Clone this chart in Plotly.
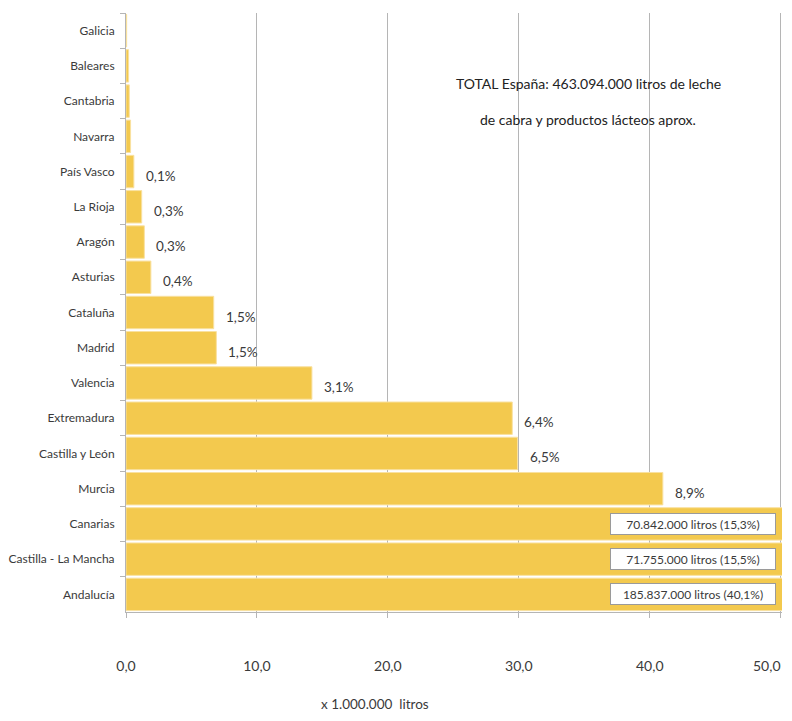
import plotly.graph_objects as go

categories = ["Galicia", "Baleares", "Cantabria", "Navarra", "País Vasco", "La Rioja",
              "Aragón", "Asturias", "Cataluña", "Madrid", "Valencia", "Extremadura",
              "Castilla y León", "Murcia", "Canarias", "Castilla - La Mancha", "Andalucía"]
values_mill = [0.05, 0.2, 0.25, 0.35, 0.6, 1.2, 1.4, 1.9, 6.7, 6.9, 14.2, 29.5,
               29.9, 41.0, 70.842, 71.755, 185.837]
pct_labels = ["", "", "", "", "0,1%", "0,3%", "0,3%", "0,4%", "1,5%", "1,5%", "3,1%",
              "6,4%", "6,5%", "8,9%", "", "", ""]
box_labels = ["", "", "", "", "", "", "", "", "", "", "", "", "", "",
              "70.842.000 litros (15,3%)", "71.755.000 litros (15,5%)",
              "185.837.000 litros (40,1%)"]
x_ticks = [0, 10, 20, 30, 40, 50]
x_tick_text = ["0,0", "10,0", "20,0", "30,0", "40,0", "50,0"]
title_lines = ["TOTAL España: 463.094.000 litros de leche",
               "de cabra y productos lácteos aprox."]
axis_title = "x 1.000.000  litros"

FONT = "Lato, Roboto, sans-serif"
TXT = "#3a3a3a"
XMAX = 50.1
OFF = 8  # default page body margin
W, H = 792 - 2 * OFF, 721 - 2 * OFF  # keep the page free of scrollbars
PX0, PX1, PY0, PY1 = 126, 782, 13, 612  # plot area in page pixels
L, R, T, B = PX0 - OFF, OFF + W - PX1, PY0 - OFF, OFF + H - PY1
PW, PH = PX1 - PX0, PY1 - PY0


def px(xp):
    return (xp - PX0) / PW


def py(yp):
    return 1 - (yp - PY0) / PH


fig = go.Figure()
fig.add_trace(go.Bar(
    y=categories, x=values_mill, orientation="h",
    marker=dict(color="#F3C94E", line=dict(color="#F9E1A0", width=1)),
    hoverinfo="skip",
))

annotations = []
for cat, v, p in zip(categories, values_mill, pct_labels):
    if p:
        annotations.append(dict(x=v, y=cat, xref="x", yref="y", text=p, showarrow=False,
                                xanchor="left", xshift=10, yshift=-4,
                                font=dict(family=FONT, size=13.5, color=TXT)))
for cat, b in zip(categories, box_labels):
    if b:
        annotations.append(dict(x=43.3, y=cat, xref="x", yref="y", text=b, showarrow=False,
                                xanchor="center", width=162, height=18,
                                bgcolor="white", bordercolor="#9a9a9a", borderwidth=1,
                                borderpad=1,
                                font=dict(family=FONT, size=12, color=TXT)))
annotations.append(dict(x=px(588), y=py(84), xref="paper", yref="paper",
                        text=title_lines[0], showarrow=False, xanchor="center",
                        yanchor="middle", font=dict(family=FONT, size=14, color="#222")))
annotations.append(dict(x=px(588), y=py(120), xref="paper", yref="paper",
                        text=title_lines[1], showarrow=False, xanchor="center",
                        yanchor="middle", font=dict(family=FONT, size=14, color="#222")))
annotations.append(dict(x=px(375), y=py(704), xref="paper", yref="paper",
                        text=axis_title, showarrow=False, xanchor="center", yanchor="middle",
                        font=dict(family=FONT, size=13.5, color=TXT)))
# last tick label drawn as annotation so it stays inside the page at the right edge
annotations.append(dict(x=x_ticks[-1], y=py(665), xref="x", yref="paper",
                        text=x_tick_text[-1], showarrow=False, xanchor="right",
                        yanchor="middle", xshift=2,
                        font=dict(family=FONT, size=14, color=TXT)))
tick_text_axis = x_tick_text[:-1] + [""]

fig.update_layout(
    width=W, height=H,
    margin=dict(l=L, r=R, t=T, b=B, autoexpand=False),
    paper_bgcolor="white", plot_bgcolor="white",
    bargap=0.08, showlegend=False,
    separators=",.",
    font=dict(family=FONT, size=14, color=TXT),
    annotations=annotations,
)
fig.update_xaxes(
    range=[0, XMAX], tickvals=x_ticks, ticktext=tick_text_axis,
    showgrid=True, gridcolor="#b5b5b5", gridwidth=1,
    ticks="outside", ticklen=5, tickcolor="#b5b5b5",
    showline=True, linecolor="#b5b5b5", linewidth=1,
    ticklabelstandoff=36, zeroline=False, automargin=False,
    tickfont=dict(family=FONT, size=14, color=TXT),
)
fig.update_yaxes(
    autorange="reversed", type="category",
    ticks="outside", ticklen=5, tickcolor="#b5b5b5", tickson="boundaries",
    showline=True, linecolor="#b5b5b5", linewidth=1, showgrid=False,
    ticklabelstandoff=8, automargin=False,
    tickfont=dict(family=FONT, size=12, color=TXT),
)

fig.write_html("out.html")
